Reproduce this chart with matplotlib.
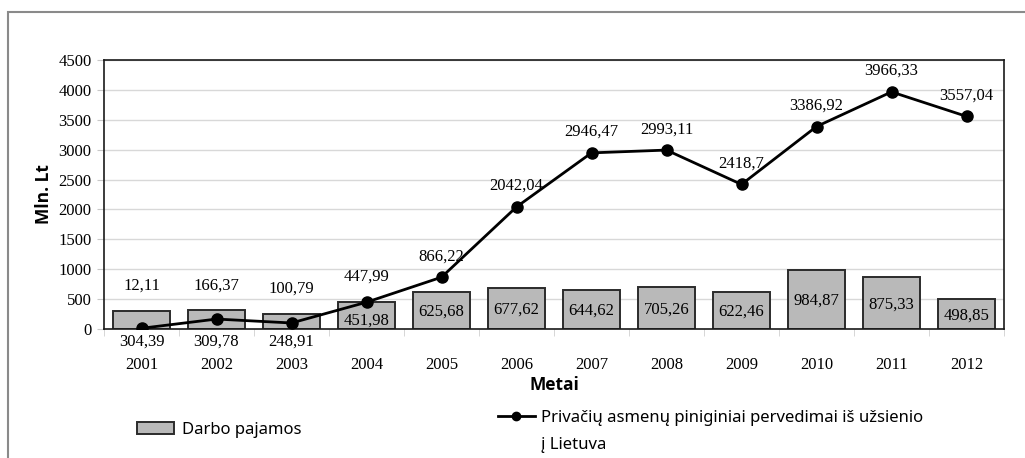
import matplotlib
matplotlib.use("Agg")
import matplotlib.pyplot as plt
from matplotlib.patches import Rectangle
import numpy as np

years = ["2001", "2002", "2003", "2004", "2005", "2006", "2007", "2008", "2009", "2010", "2011", "2012"]
darbo_pajamos = [304.39, 309.78, 248.91, 451.98, 625.68, 677.62, 644.62, 705.26, 622.46, 984.87, 875.33, 498.85]
pervedimai = [12.11, 166.37, 100.79, 447.99, 866.22, 2042.04, 2946.47, 2993.11, 2418.7, 3386.92, 3966.33, 3557.04]
yticks = [0, 500, 1000, 1500, 2000, 2500, 3000, 3500, 4000, 4500]

def fmt(v):
    s = f"{v:.2f}".rstrip("0").rstrip(".") if abs(v * 10 - round(v * 10)) < 1e-9 else f"{v:.2f}"
    return s.replace(".", ",")

SERIF = "Liberation Serif"
SANS = "Noto Sans"
BOLD = ["Open Sans", "Lato", "DejaVu Sans"]
NUM = 12

fig = plt.figure(figsize=(10.25, 4.58), dpi=100)
ax = fig.add_axes([104 / 1025, 1 - 329 / 458, 900 / 1025, 269 / 458])

x = np.arange(len(years))
bars = ax.bar(x, darbo_pajamos, width=0.77, color="#b9b9b9", edgecolor="#2b2b2b",
              linewidth=1.4, zorder=2, label="Darbo pajamos")
line, = ax.plot(x, pervedimai, color="black", linewidth=2.0, marker="o", markersize=8,
                zorder=3, label="Privačių asmenų piniginiai pervedimai iš užsienio")

ax.set_xlim(-0.5, len(years) - 0.5)
ax.set_ylim(0, 4500)
ax.set_yticks(yticks)
ax.set_yticklabels([str(t) for t in yticks], fontfamily=SERIF, fontsize=NUM)
ax.set_xticks(x)
ax.set_xticklabels(years, fontfamily=SERIF, fontsize=NUM)
ax.tick_params(axis="x", length=0, pad=20)
ax.tick_params(axis="y", length=5, color="#c8c8c8", pad=4)
ax.set_xticks(np.arange(-0.5, len(years), 1.0), minor=True)
ax.tick_params(axis="x", which="minor", length=5, color="#d0d0d0")
ax.grid(axis="y", color="#d8d8d8", linewidth=1.0, zorder=0)
ax.set_axisbelow(True)
for s in ax.spines.values():
    s.set_color("#1a1a1a")
    s.set_linewidth(1.2)

# value labels for bars
for i, v in enumerate(darbo_pajamos):
    if i < 3:
        ax.annotate(fmt(v), (i, 0), xytext=(0, -9), textcoords="offset points",
                    ha="center", va="center", fontfamily=SERIF, fontsize=NUM)
    else:
        ax.annotate(fmt(v), (i, v / 2), xytext=(0, -1 if i != 3 else -4), textcoords="offset points",
                    ha="center", va="center", fontfamily=SERIF, fontsize=NUM)

# value labels for line
for i, v in enumerate(pervedimai):
    base = max(v, darbo_pajamos[i])
    off = 18 if v < darbo_pajamos[i] or i == 3 else 15
    ax.annotate(fmt(v), (i, base), xytext=(0, off), textcoords="offset points",
                ha="center", va="center", fontfamily=SERIF, fontsize=NUM)

ax.set_ylabel("Mln. Lt", fontfamily=BOLD, fontsize=12.5, fontweight="bold", labelpad=4)
ax.set_xlabel("Metai", fontfamily=BOLD, fontsize=12.5, fontweight="bold", labelpad=2)

leg1 = fig.legend(handles=[bars], labels=["Darbo pajamos"], loc="center left",
                  bbox_to_anchor=(122 / 1025, 1 - 430 / 458), frameon=False,
                  prop={"family": SANS, "size": 12}, handlelength=2.2, handleheight=0.7,
                  handletextpad=0.5)
lh = plt.Line2D([], [], color="black", linewidth=2.0, marker="o", markersize=6)
leg2 = fig.legend(handles=[lh], labels=["Privačių asmenų piniginiai pervedimai iš užsienio"],
                  loc="center left", bbox_to_anchor=(483 / 1025, 1 - 418 / 458), frameon=False,
                  prop={"family": SANS, "size": 12}, handlelength=2.2, handletextpad=0.4)
fig.canvas.draw()
t = leg2.get_texts()[0]
bb = t.get_window_extent()
fx = bb.x0 / fig.bbox.width
fig.text(fx, 1 - 445 / 458, "į Lietuva", fontfamily=SANS, fontsize=12, ha="left", va="center")

# outer frame
fig.patches.append(Rectangle((8 / 1025, -0.1), 1.2, 1 + 0.1 - 12 / 458, transform=fig.transFigure,
                             fill=False, edgecolor="#8a8a8a", linewidth=1.5, figure=fig))

fig.savefig("out.png", dpi=100)
